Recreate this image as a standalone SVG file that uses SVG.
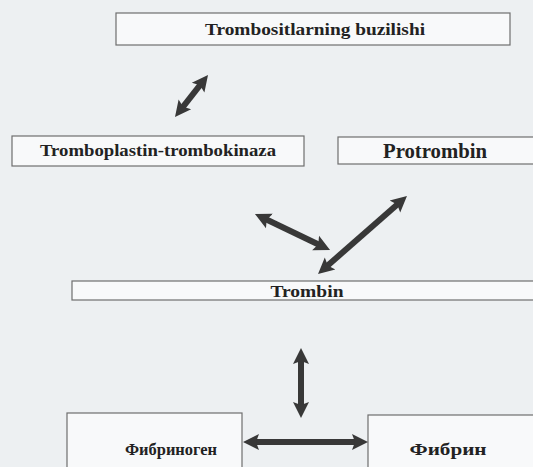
<svg xmlns="http://www.w3.org/2000/svg" width="533" height="467" viewBox="0 0 533 467">
<style>
.bg{fill:#edf0f2}
.box{fill:#f8f9fa;stroke:#6e6e6e;stroke-width:1.2}
.t{font-family:"Liberation Serif","Times New Roman",serif;font-weight:bold;fill:#222;text-anchor:middle}
.arr{stroke:#383838;stroke-width:6;fill:none;marker-start:url(#h);marker-end:url(#h)}
</style>
<defs>
<marker id="h" markerUnits="userSpaceOnUse" markerWidth="18" markerHeight="18" viewBox="0 -9 18 18" refX="5" refY="0" orient="auto-start-reverse">
<path d="M0,-8 L16,0 L0,8 L3,0 z" fill="#383838"/>
</marker>
</defs>
<rect class="bg" x="0" y="0" width="533" height="467"/>
<g id="n-buzilishi">
<rect class="box" x="116" y="13" width="394" height="32"/>
<text class="t" x="315" y="35" font-size="17" textLength="220" lengthAdjust="spacingAndGlyphs">Trombositlarning buzilishi</text>
</g>
<g id="n-tromboplastin">
<rect class="box" x="12" y="136" width="292" height="30"/>
<text class="t" x="158" y="156" font-size="17" textLength="236" lengthAdjust="spacingAndGlyphs">Tromboplastin-trombokinaza</text>
</g>
<g id="n-protrombin">
<rect class="box" x="338" y="137" width="220" height="27"/>
<text class="t" x="435" y="158" font-size="20" textLength="104" lengthAdjust="spacingAndGlyphs">Protrombin</text>
</g>
<g id="n-trombin">
<rect class="box" x="72" y="281" width="500" height="19"/>
<text class="t" x="307" y="297" font-size="16" textLength="73" lengthAdjust="spacingAndGlyphs">Trombin</text>
</g>
<g id="n-fibrinogen">
<rect class="box" x="67" y="413" width="175" height="80"/>
<text class="t" x="171" y="455" font-size="16" textLength="92" lengthAdjust="spacingAndGlyphs">Фибриноген</text>
</g>
<g id="n-fibrin">
<rect class="box" x="368" y="415" width="200" height="80"/>
<text class="t" x="448" y="455" font-size="16" textLength="77" lengthAdjust="spacingAndGlyphs">Фибрин</text>
</g>
<g id="connectors">
<line class="arr" x1="181.8" y1="108.3" x2="201.2" y2="83.7"/>
<line class="arr" x1="264.9" y1="218.8" x2="320.1" y2="245.2"/>
<line class="arr" x1="398.7" y1="203.3" x2="326.3" y2="266.7"/>
<line class="arr" x1="301" y1="359" x2="301" y2="407"/>
<line class="arr" x1="254" y1="442" x2="357" y2="442"/>
</g>
</svg>
